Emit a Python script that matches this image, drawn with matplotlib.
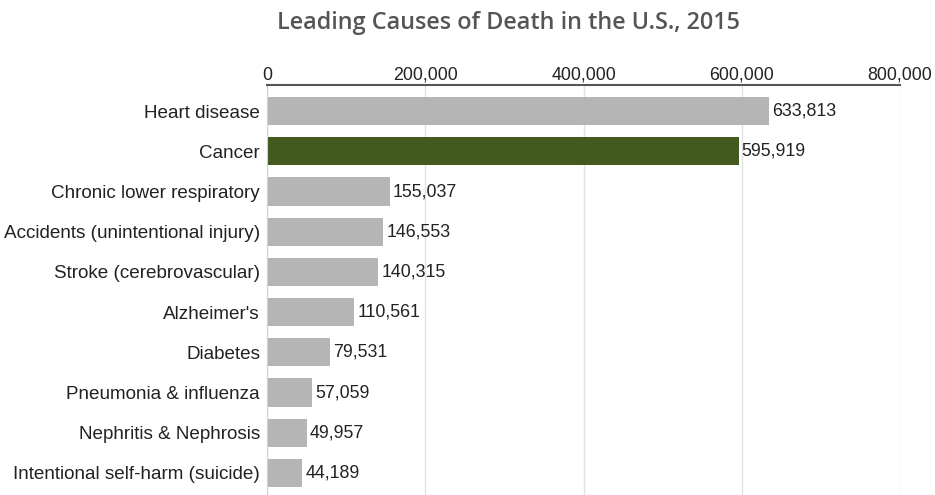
import matplotlib.pyplot as plt
from matplotlib.ticker import FuncFormatter

# dados
causas = ["Heart disease", "Cancer", "Chronic lower respiratory",
          "Accidents (unintentional injury)", "Stroke (cerebrovascular)",
          "Alzheimer's", "Diabetes", "Pneumonia & influenza",
          "Nephritis & Nephrosis", "Intentional self-harm (suicide)"]
mortes = [633813, 595919, 155037, 146553, 140315, 110561, 79531, 57059, 49957, 44189]
destaque = "Cancer"
ticks_x = [0, 200000, 400000, 600000, 800000]

cinza = "#b5b5b5"
verde = "#435a1f"
fonte = 13.6
fonte_num = 12.8

fig = plt.figure(figsize=(9.35, 4.95), dpi=100)
ax = fig.add_axes([267/935, 0, 633/935, 1 - 85/495])

cores = [verde if c == destaque else cinza for c in causas]
pos = list(range(len(causas)))
ax.barh(pos, mortes, height=0.7, color=cores, zorder=2)

for p, v in zip(pos, mortes):
    ax.text(v + 4000, p, f"{v:,}", va="center", ha="left",
            fontsize=fonte_num, family="Liberation Sans", color="#222222")

ax.set_xlim(0, 800000)
ax.set_ylim(9.55, -0.65)
ax.set_yticks(pos)
ax.set_yticklabels(causas, fontsize=fonte, family="Liberation Sans", color="#222222")
ax.set_xticks(ticks_x)
ax.xaxis.set_major_formatter(FuncFormatter(lambda x, _: f"{int(x):,}"))
ax.xaxis.tick_top()
for lbl in ax.get_xticklabels():
    lbl.set_family("Liberation Sans")
    lbl.set_fontsize(fonte_num)
    lbl.set_color("#222222")
ax.tick_params(axis="x", length=0, pad=1)
ax.tick_params(axis="y", length=0, pad=5)
ax.grid(axis="x", color="#e2e2e2", linewidth=1, zorder=0)

for s in ["right", "bottom"]:
    ax.spines[s].set_visible(False)
ax.spines["left"].set_color("#d0d0d0")
ax.spines["top"].set_color("#555555")
ax.spines["top"].set_linewidth(1.5)

fig.text(508.5/935, 1 - 23/495, "Leading Causes of Death in the U.S., 2015",
         ha="center", va="center", fontsize=16.8, family="Open Sans",
         fontweight="semibold", color="#555555")

fig.savefig("out.png", dpi=100)
